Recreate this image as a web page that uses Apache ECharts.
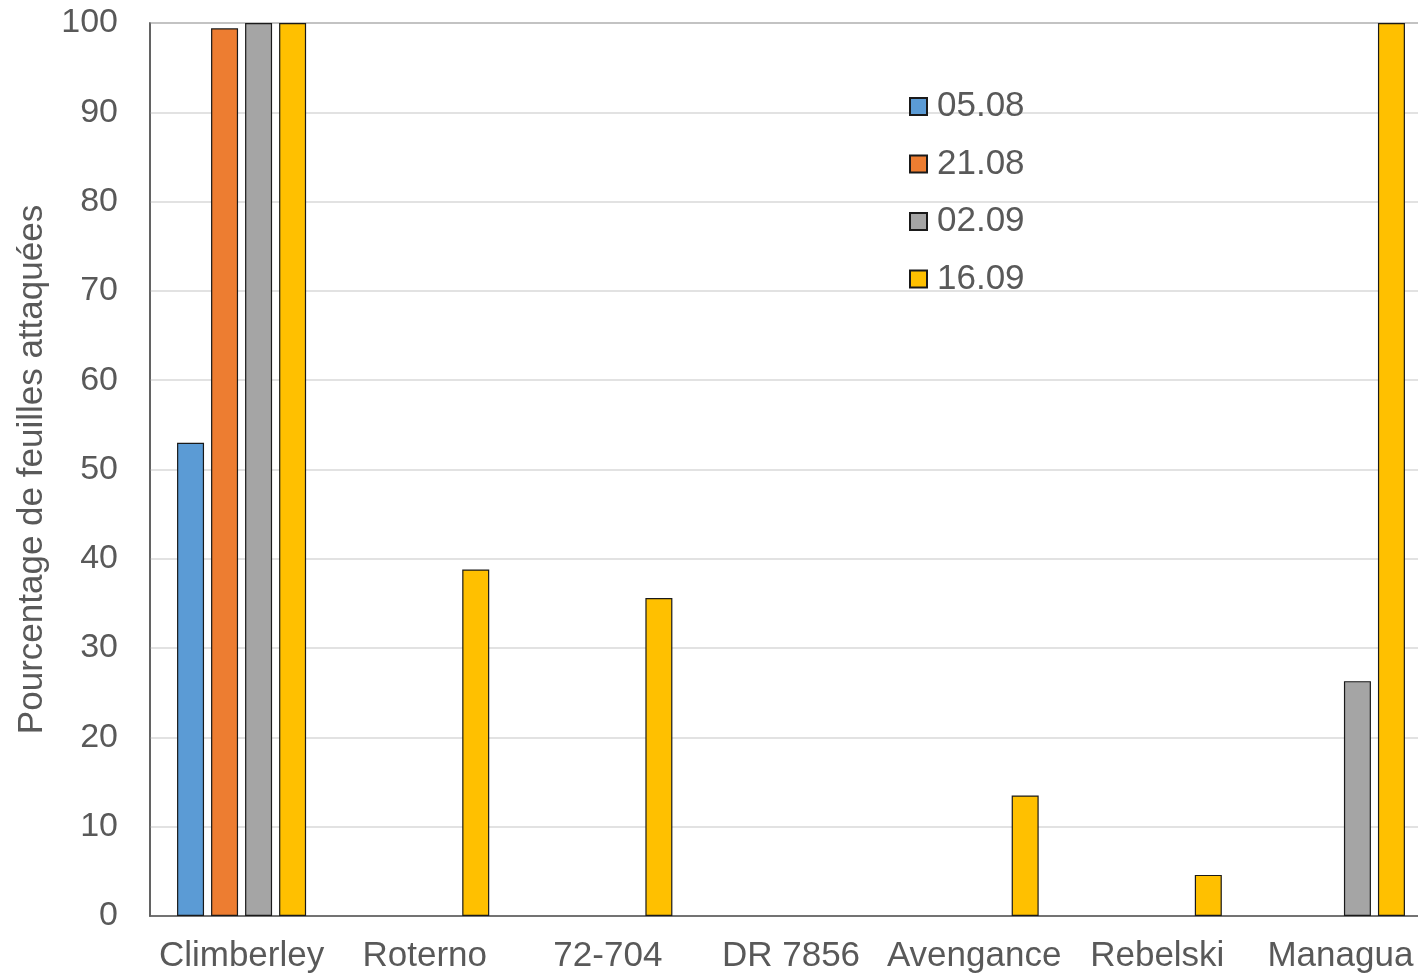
<!DOCTYPE html>
<html>
<head>
<meta charset="utf-8">
<script src="https://cdn.jsdelivr.net/npm/echarts@6/dist/echarts.min.js"></script>
<style>html,body{margin:0;padding:0;background:#fff}#c{width:1418px;height:978px}</style>
</head>
<body>
<div id="c"></div>
<script>
const categories = ['Climberley', 'Roterno', '72-704', 'DR 7856', 'Avengance', 'Rebelski', 'Managua'];
const seriesNames = ['05.08', '21.08', '02.09', '16.09'];
const s0508 = [53, 0, 0, 0, 0, 0, 0];
const s2108 = [99.4, 0, 0, 0, 0, 0, 0];
const s0209 = [100, 0, 0, 0, 0, 0, 26.3];
const s1609 = [100, 38.8, 35.6, 0, 13.5, 4.6, 100];
const yTicks = [0, 10, 20, 30, 40, 50, 60, 70, 80, 90, 100];
const colors = ['#5B9BD5', '#ED7D31', '#A5A5A5', '#FFC000'];
const allData = [s0508, s2108, s0209, s1609];

const font = 'Liberation Sans, Arial, sans-serif';
const chart = echarts.init(document.getElementById('c'));
chart.setOption({
  animation: false,
  backgroundColor: '#fff',
  grid: { left: 150, top: 23, height: 893, width: 1282, containLabel: false, outerBoundsMode: 'none', show: true, borderColor: '#595959', borderWidth: 1.5, backgroundColor: 'transparent' },
  legend: {
    orient: 'vertical', left: 904, top: 84,
    itemWidth: 17, itemHeight: 17, itemGap: 22.5,
    icon: 'rect',
    textStyle: { fontFamily: font, fontSize: 35, color: '#595959', lineHeight: 35, padding: [0, 0, 0, 5] },
    data: seriesNames
  },
  xAxis: {
    type: 'category', data: categories,
    axisLine: { lineStyle: { color: '#595959', width: 1.5 } },
    axisTick: { show: false },
    axisLabel: { fontFamily: font, fontSize: 35, color: '#595959', margin: 23, interval: 0 }
  },
  yAxis: {
    type: 'value', min: yTicks[0], max: yTicks[yTicks.length - 1], interval: 10,
    name: 'Pourcentage de feuilles attaquées', nameLocation: 'middle', nameGap: 100,
    nameTextStyle: { fontFamily: font, fontSize: 35, color: '#595959' },
    axisLine: { show: true, lineStyle: { color: '#595959', width: 1.5 } },
    axisTick: { show: false },
    axisLabel: { fontFamily: font, fontSize: 34, color: '#595959', margin: 32 },
    splitLine: { lineStyle: { color: '#D9D9D9', width: 1.5 } }
  },
  series: seriesNames.map((n, i) => ({
    name: n, type: 'bar', data: allData[i].map(v => v === 0 ? null : v),
    barWidth: 27, barGap: '26%',
    itemStyle: { color: colors[i], borderColor: '#1a1a1a', borderWidth: 1.2 }
  }))
});
</script>
</body>
</html>
